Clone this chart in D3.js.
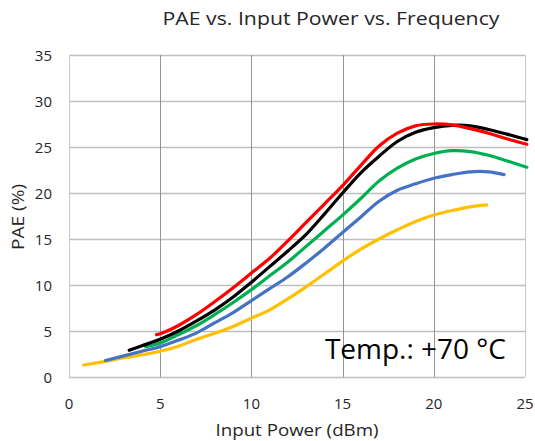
<!DOCTYPE html>
<html>
<head>
<meta charset="utf-8">
<script src="https://cdn.jsdelivr.net/npm/d3@7"></script>
<style>
  body { margin: 0; background: #fff; }
  svg { font-family: "Open Sans", sans-serif; }
</style>
</head>
<body>
<script>
var width = 535;
var height = 441;
var margin = { top: 55, bottom: 64, right: 10, left: 69 };

// PAE (%) vs input power (dBm)
var redX = [4.8, 5, 6, 7, 8, 9, 10, 11, 12, 13, 14, 15, 16, 17, 18, 19, 20, 21, 22, 23, 24, 25.1];
var redY = [4.6, 4.7, 5.6, 6.8, 8.2, 9.7, 11.3, 12.9, 14.8, 16.8, 18.8, 20.8, 23.0, 25.1, 26.5, 27.3, 27.5, 27.4, 27.0, 26.5, 25.9, 25.3];
var blackX = [3.3, 4, 5, 6, 7, 8, 9, 10, 11, 12, 13, 14, 15, 16, 17, 18, 19, 20, 21, 22, 23, 24, 25.1];
var blackY = [2.9, 3.4, 4.1, 5.0, 6.1, 7.3, 8.7, 10.3, 12.0, 13.7, 15.5, 17.7, 20.0, 22.2, 24.0, 25.6, 26.6, 27.1, 27.35, 27.3, 26.9, 26.4, 25.8];
var greenX = [4.2, 5, 6, 7, 8, 9, 10, 11, 12, 13, 14, 15, 16, 17, 18, 19, 20, 21, 22, 23, 24, 25.1];
var greenY = [3.3, 3.7, 4.6, 5.6, 6.8, 8.1, 9.5, 11.0, 12.5, 14.2, 15.9, 17.6, 19.4, 21.3, 22.7, 23.7, 24.3, 24.6, 24.5, 24.1, 23.5, 22.8];
var blueX = [2, 3, 4, 5, 6, 7, 8, 9, 10, 11, 12, 13, 14, 15, 16, 17, 18, 19, 20, 21, 22, 23, 23.85];
var blueY = [1.8, 2.3, 2.8, 3.3, 4.0, 4.8, 5.9, 7.0, 8.3, 9.6, 10.9, 12.4, 14.0, 15.7, 17.4, 19.1, 20.3, 21.0, 21.6, 22.0, 22.3, 22.3, 22.0];
var yellowX = [0.8, 2, 3, 4, 5, 6, 7, 8, 9, 10, 11, 12, 13, 14, 15, 16, 17, 18, 19, 20, 21, 22, 22.9];
var yellowY = [1.3, 1.7, 2.1, 2.4, 2.8, 3.35, 4.1, 4.75, 5.5, 6.4, 7.3, 8.5, 9.8, 11.2, 12.6, 13.9, 15.0, 16.0, 16.9, 17.6, 18.1, 18.5, 18.7];

var xTicks = [0, 5, 10, 15, 20, 25];
var yTicks = [0, 5, 10, 15, 20, 25, 30, 35];

var series = [
  { color: "#ffc000", x: yellowX, y: yellowY },
  { color: "#4472c4", x: blueX, y: blueY },
  { color: "#00b050", x: greenX, y: greenY },
  { color: "#000000", x: blackX, y: blackY },
  { color: "#ff0000", x: redX, y: redY }
];

var svg = d3.select("body").append("svg")
  .attr("width", width)
  .attr("height", height);

var xScale = d3.scaleLinear().domain([0, 25]).range([margin.left, width - margin.right]);
var yScale = d3.scaleLinear().domain([0, 35]).range([height - margin.bottom, margin.top]);

// gridlines
svg.append("g")
  .selectAll("line")
  .data(yTicks)
  .join("line")
  .attr("x1", xScale(0))
  .attr("x2", xScale(25))
  .attr("y1", d => Math.round(yScale(d)) + 0.5)
  .attr("y2", d => Math.round(yScale(d)) + 0.5)
  .attr("stroke", "#bfbfbf")
  .attr("stroke-width", 1.3);

svg.append("g")
  .selectAll("line")
  .data(xTicks)
  .join("line")
  .attr("x1", d => Math.round(xScale(d)) + 0.5)
  .attr("x2", d => Math.round(xScale(d)) + 0.5)
  .attr("y1", yScale(35))
  .attr("y2", yScale(0))
  .attr("stroke", d => (d == 0 || d == 25) ? "#c8c8c8" : "#949494")
  .attr("stroke-width", 1);

// tick labels
svg.append("g")
  .selectAll("text")
  .data(yTicks)
  .join("text")
  .attr("x", margin.left - 17)
  .attr("y", d => yScale(d) + 5.5)
  .attr("text-anchor", "end")
  .attr("font-size", "15px")
  .attr("fill", "#262626")
  .text(d => d);

svg.append("g")
  .selectAll("text")
  .data(xTicks)
  .join("text")
  .attr("x", d => xScale(d))
  .attr("y", yScale(0) + 32)
  .attr("text-anchor", "middle")
  .attr("font-size", "15px")
  .attr("fill", "#262626")
  .text(d => d);

// lines
var line = d3.line()
  .x(d => xScale(d[0]))
  .y(d => yScale(d[1]))
  .curve(d3.curveCatmullRom);

svg.append("g")
  .selectAll("path")
  .data(series)
  .join("path")
  .attr("fill", "none")
  .attr("stroke", d => d.color)
  .attr("stroke-width", 3.2)
  .attr("stroke-linecap", "round")
  .attr("d", d => line(d.x.map((v, i) => [v, d.y[i]])));

// titles
svg.append("text")
  .attr("x", 331)
  .attr("y", 25)
  .attr("text-anchor", "middle")
  .attr("font-size", "18px")
  .attr("textLength", 337)
  .attr("lengthAdjust", "spacingAndGlyphs")
  .attr("fill", "#262626")
  .text("PAE vs. Input Power vs. Frequency");

svg.append("text")
  .attr("x", 297)
  .attr("y", 436)
  .attr("text-anchor", "middle")
  .attr("font-size", "16px")
  .attr("textLength", 163)
  .attr("lengthAdjust", "spacingAndGlyphs")
  .attr("fill", "#262626")
  .text("Input Power (dBm)");

svg.append("text")
  .attr("transform", "translate(24,217) rotate(-90)")
  .attr("text-anchor", "middle")
  .attr("font-size", "16px")
  .attr("textLength", 66)
  .attr("lengthAdjust", "spacingAndGlyphs")
  .attr("fill", "#262626")
  .text("PAE (%)");

svg.append("text")
  .attr("x", 506)
  .attr("y", 359)
  .attr("text-anchor", "end")
  .attr("font-size", "28px")
  .attr("fill", "#000")
  .text("Temp.: +70 °C");
</script>
</body>
</html>
